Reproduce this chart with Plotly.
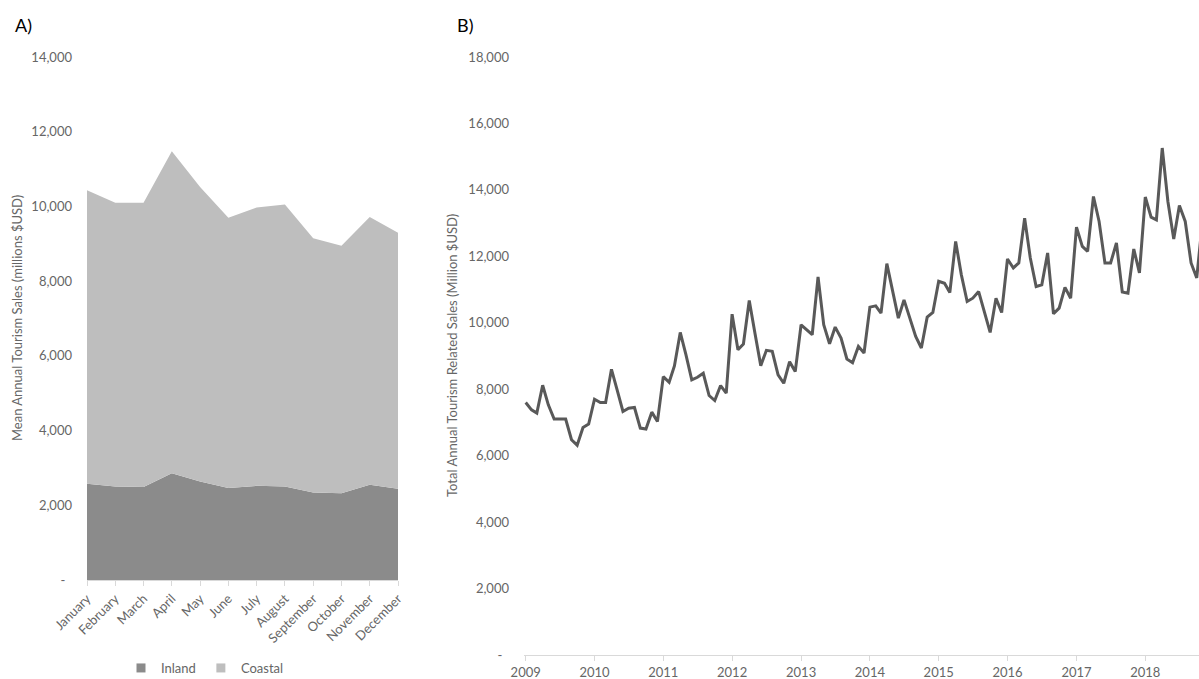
import pandas as pd
import plotly.graph_objects as go

# ---- Panel A: mean monthly sales, stacked by region ----
months = ["January", "February", "March", "April", "May", "June",
          "July", "August", "September", "October", "November", "December"]
inland = [2574, 2500, 2490, 2860, 2636, 2466, 2520, 2500, 2340, 2324, 2547, 2440]
coastal = [7856, 7600, 7610, 8615, 7884, 7234, 7450, 7550, 6810, 6626, 7173, 6855]

# ---- Panel B: total monthly tourism related sales ----
sales_2009 = [7600, 7380, 7280, 8120, 7530, 7100, 7100, 7100, 6480, 6315, 6850, 6950]
sales_2010 = [7700, 7600, 7600, 8600, 7980, 7330, 7430, 7450, 6830, 6800, 7310, 7030]
sales_2011 = [8380, 8210, 8700, 9710, 9040, 8280, 8360, 8480, 7810, 7660, 8110, 7880]
sales_2012 = [10260, 9190, 9360, 10670, 9690, 8710, 9170, 9140, 8430, 8180, 8830, 8530]
sales_2013 = [9940, 9790, 9640, 11380, 9940, 9370, 9870, 9540, 8910, 8800, 9290, 9090]
sales_2014 = [10470, 10510, 10290, 11780, 10940, 10140, 10690, 10140, 9590, 9240, 10170, 10310]
sales_2015 = [11250, 11190, 10910, 12450, 11450, 10640, 10740, 10940, 10340, 9710, 10740, 10310]
sales_2016 = [11920, 11650, 11800, 13150, 11950, 11090, 11145, 12100, 10270, 10440, 11065, 10740]
sales_2017 = [12880, 12300, 12150, 13800, 13050, 11800, 11800, 12400, 10925, 10890, 12220, 11500]
sales_2018 = [13785, 13180, 13100, 15260, 13650, 12520, 13530, 13050, 11800, 11350, 13100]

monthly_sales = (sales_2009 + sales_2010 + sales_2011 + sales_2012 + sales_2013
                 + sales_2014 + sales_2015 + sales_2016 + sales_2017 + sales_2018)
sale_dates = pd.date_range("2009-01-01", periods=len(monthly_sales), freq="MS")

ticks_a = [0, 2000, 4000, 6000, 8000, 10000, 12000, 14000]
ticks_b = [0, 2000, 4000, 6000, 8000, 10000, 12000, 14000, 16000, 18000]


def money_labels(vals):
    return ["-\u00a0\u00a0" if v == 0 else f"{v:,}" for v in vals]


W, H = 1199, 679
FONT = "Lato"
GREY_TXT = "#666666"
AXIS_GREY = "#d9d9d9"
INLAND_COL = "#8b8b8b"
COASTAL_COL = "#bebebe"


def fx(p):
    return p / W


def fy(p):
    return 1 - p / H


fig = go.Figure()

fig.add_trace(go.Scatter(x=months, y=inland, stackgroup="region", mode="none",
                         fillcolor=INLAND_COL, name="Inland", showlegend=False,
                         xaxis="x", yaxis="y"))
fig.add_trace(go.Scatter(x=months, y=coastal, stackgroup="region", mode="none",
                         fillcolor=COASTAL_COL, name="Coastal", showlegend=False,
                         xaxis="x", yaxis="y"))
# square legend keys
fig.add_trace(go.Scatter(x=[None], y=[None], mode="markers", name="Inland",
                         marker=dict(symbol="square", size=9, color=INLAND_COL),
                         xaxis="x", yaxis="y"))
fig.add_trace(go.Scatter(x=[None], y=[None], mode="markers", name="Coastal",
                         marker=dict(symbol="square", size=9, color=COASTAL_COL),
                         xaxis="x", yaxis="y"))

fig.add_trace(go.Scatter(x=sale_dates, y=monthly_sales, mode="lines",
                         line=dict(color="#595959", width=3), showlegend=False,
                         xaxis="x2", yaxis="y2"))

tick_font = dict(family=FONT, size=13, color=GREY_TXT)

fig.update_layout(
    width=W, height=H,
    autosize=False,
    margin=dict(l=0, r=0, t=0, b=0, pad=0, autoexpand=False),
    paper_bgcolor="white", plot_bgcolor="white",
    font=dict(family=FONT, color=GREY_TXT),
    xaxis=dict(domain=[fx(87), fx(398)], anchor="y", type="category",
               range=[0, 11], tickangle=-45, ticks="outside", ticklen=5,
               tickcolor=AXIS_GREY, showline=True, linecolor=AXIS_GREY,
               showgrid=False, zeroline=False, tickfont=tick_font,
               automargin=False),
    yaxis=dict(domain=[fy(580), fy(57)], anchor="x", range=[0, 14000],
               tickvals=ticks_a, ticktext=money_labels(ticks_a),
               showgrid=False, zeroline=False, showline=False,
               ticklabelstandoff=14, tickfont=tick_font, automargin=False),
    xaxis2=dict(domain=[fx(524), 1], anchor="y2", type="date",
                range=["2008-12-23", "2018-10-13"], tick0="2009-01-01",
                dtick="M12", tickformat="%Y", ticks="outside", ticklen=5,
                tickcolor=AXIS_GREY, showline=True, linecolor=AXIS_GREY,
                showgrid=False, zeroline=False, tickfont=tick_font,
                automargin=False),
    yaxis2=dict(domain=[fy(655), fy(57)], anchor="x2", range=[0, 18000],
                tickvals=ticks_b, ticktext=money_labels(ticks_b),
                showgrid=False, zeroline=False, showline=False,
                ticklabelstandoff=14, tickfont=tick_font, automargin=False),
    legend=dict(orientation="h", x=fx(205), xanchor="center",
                y=fy(668), yanchor="middle", bgcolor="rgba(0,0,0,0)",
                font=dict(family=FONT, size=13, color=GREY_TXT),
                traceorder="normal", itemwidth=30, tracegroupgap=0),
    showlegend=True,
)

annotations = [
    dict(text="A)", x=fx(13), y=fy(25), xanchor="left", yanchor="middle",
         font=dict(family=FONT, size=18, color="black")),
    dict(text="B)", x=fx(455), y=fy(25), xanchor="left", yanchor="middle",
         font=dict(family=FONT, size=18, color="black")),
    dict(text="Mean Annual Tourism Sales (millions $USD)", textangle=-90,
         x=fx(17), y=fy(318), xanchor="center", yanchor="middle",
         font=dict(family=FONT, size=13, color=GREY_TXT)),
    dict(text="Total Annual Tourism Related Sales (Million $USD)", textangle=-90,
         x=fx(452), y=fy(356), xanchor="center", yanchor="middle",
         font=dict(family=FONT, size=13, color=GREY_TXT)),
]
for a in annotations:
    a.update(xref="paper", yref="paper", showarrow=False)
fig.update_layout(annotations=annotations)

fig.write_html("out.html")
